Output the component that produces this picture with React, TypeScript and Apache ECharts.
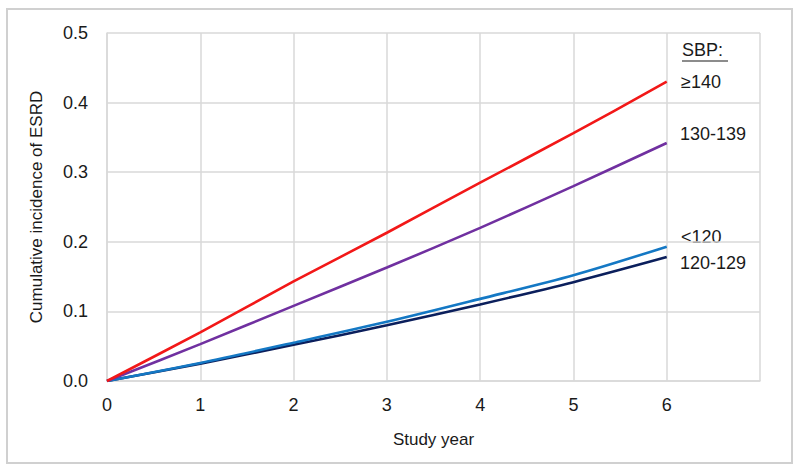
import React, { useEffect, useRef } from "react";
import * as echarts from "echarts";

const years = [0, 1, 2, 3, 4, 5, 6];
const sbp140 = [0, 0.07, 0.143, 0.213, 0.285, 0.356, 0.43];
const sbp130 = [0, 0.053, 0.108, 0.163, 0.22, 0.28, 0.342];
const sbpLt120 = [0, 0.026, 0.055, 0.085, 0.118, 0.152, 0.193];
const sbp120 = [0, 0.025, 0.052, 0.08, 0.11, 0.142, 0.178];
const xTicks = [0, 1, 2, 3, 4, 5, 6];
const yTicks = [0, 0.1, 0.2, 0.3, 0.4, 0.5];

const FONT = "Liberation Sans, Arial, sans-serif";

function pairs(v: number[]) {
  return years.map((x, i) => [x, v[i]]);
}

export default function App() {
  const ref = useRef<HTMLDivElement>(null);
  useEffect(() => {
    const chart = echarts.init(ref.current!, null, { renderer: "svg" });
    const grid = { left: 107, top: 33, width: 653, height: 348 };
    const mkSeries = (name: string, data: number[], color: string) => ({
      name,
      type: "line",
      data: pairs(data),
      smooth: 0.3,
      showSymbol: false,
      symbol: "none",
      lineStyle: { color, width: 2.6 },
      z: 3,
    });
    const labelStyle = { fontFamily: FONT, fontSize: 18, fill: "#1a1a1a" };
    chart.setOption({
      animation: false,
      backgroundColor: "#fff",
      grid,
      xAxis: {
        type: "value",
        min: 0,
        max: 7,
        interval: 1,
        name: "Study year",
        nameLocation: "middle",
        nameGap: 50,
        nameTextStyle: { fontFamily: FONT, fontSize: 17, color: "#1a1a1a" },
        axisLine: { show: true, lineStyle: { color: "#d9d9d9", width: 1.5 } },
        axisTick: { show: false },
        splitLine: { show: true, lineStyle: { color: "#d9d9d9", width: 1.5 } },
        axisLabel: {
          margin: 15,
          fontFamily: FONT,
          fontSize: 18,
          color: "#1a1a1a",
          formatter: (v: number) => (xTicks.includes(v) ? String(v) : ""),
        },
      },
      yAxis: {
        type: "value",
        min: 0,
        max: 0.5,
        interval: 0.1,
        name: "Cumulative incidence of ESRD",
        nameLocation: "middle",
        nameGap: 62,
        nameTextStyle: { fontFamily: FONT, fontSize: 17, color: "#1a1a1a" },
        axisLine: { show: true, lineStyle: { color: "#d9d9d9", width: 1.5 } },
        axisTick: { show: false },
        splitLine: { show: true, lineStyle: { color: "#d9d9d9", width: 1.5 } },
        axisLabel: {
          margin: 19,
          fontFamily: FONT,
          fontSize: 18,
          color: "#1a1a1a",
          formatter: (v: number) => {
            const t = yTicks.find((y) => Math.abs(y - v) < 1e-9);
            return t === undefined ? "" : t.toFixed(1);
          },
        },
      },
      series: [
        mkSeries("120-129", sbp120, "#0b1f5c"),
        mkSeries("<120", sbpLt120, "#1478c4"),
        mkSeries("130-139", sbp130, "#7030a0"),
        mkSeries("≥140", sbp140, "#f21818"),
      ],
      graphic: [
        {
          type: "rect",
          shape: { x: 7, y: 9, width: 785, height: 454 },
          style: { fill: "none", stroke: "#d0d0d0", lineWidth: 2 },
          silent: true,
        },
        {
          type: "text",
          x: 682,
          y: 50,
          style: { ...labelStyle, text: "SBP:", textVerticalAlign: "middle" },
        },
        {
          type: "line",
          shape: { x1: 682, y1: 61, x2: 728, y2: 61 },
          style: { stroke: "#1a1a1a", lineWidth: 1.2 },
        },
        {
          type: "text",
          x: 681,
          y: 82,
          style: { ...labelStyle, text: "≥140", textVerticalAlign: "middle" },
        },
        {
          type: "text",
          x: 680,
          y: 134,
          style: { ...labelStyle, text: "130-139", textVerticalAlign: "middle" },
        },
        {
          type: "text",
          x: 681,
          y: 237,
          style: { ...labelStyle, text: "<120", textVerticalAlign: "middle" },
        },
        {
          type: "text",
          x: 680,
          y: 263,
          style: { ...labelStyle, text: "120-129", textVerticalAlign: "middle" },
        },
      ],
    });
    return () => chart.dispose();
  }, []);
  return (
    <div
      ref={ref}
      style={{ position: "absolute", left: 0, top: 0, width: 800, height: 471 }}
    />
  );
}
